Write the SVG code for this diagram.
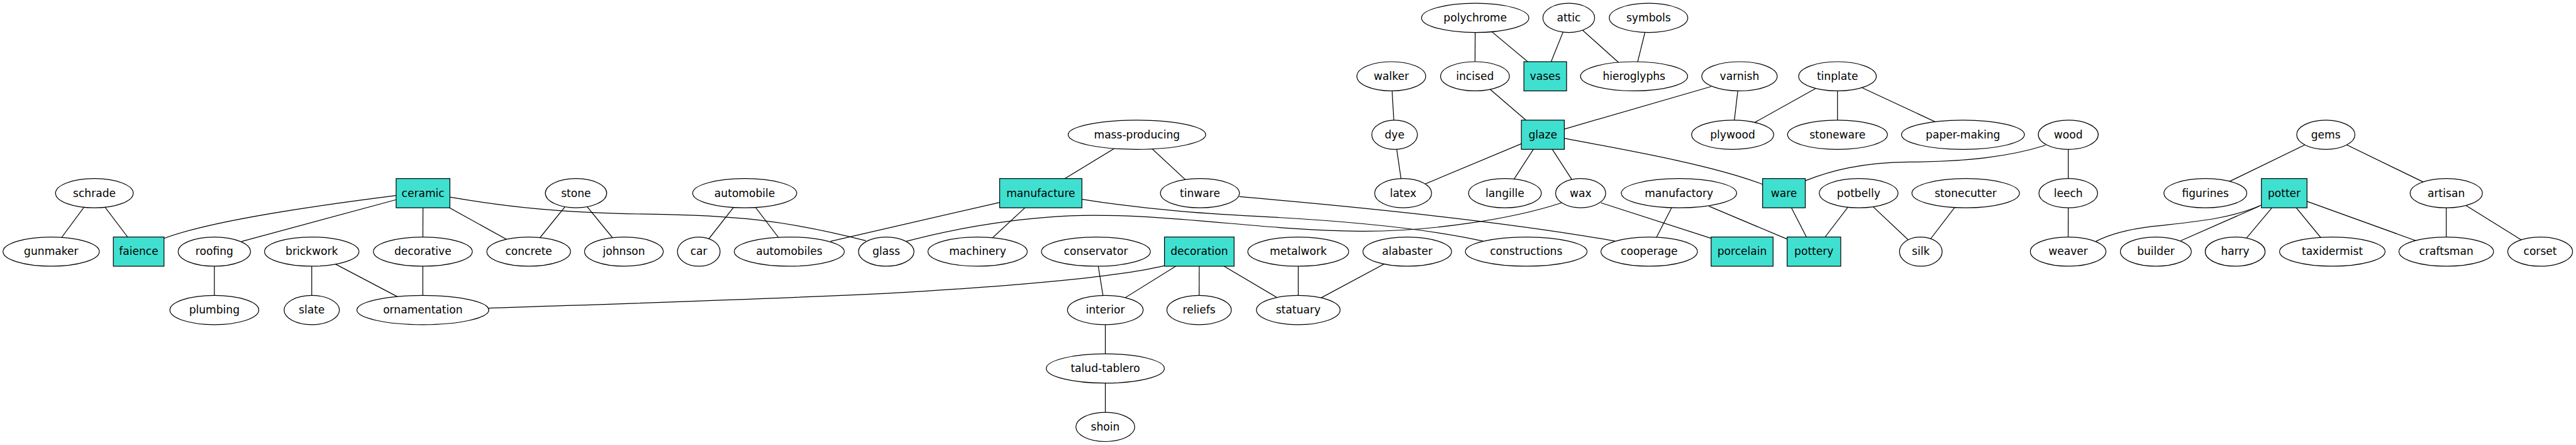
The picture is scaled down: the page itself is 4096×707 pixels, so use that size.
<svg xmlns="http://www.w3.org/2000/svg" width="4096" height="707" viewBox="0 0 4096 707">
<style>
.e{fill:#fff;stroke:#000;stroke-width:1.3}
.b{fill:#40e0d0;stroke:#000;stroke-width:1.3}
#edges line,#edges path{stroke:#000;stroke-width:1.3;fill:none}
text{font-family:"DejaVu Sans","Liberation Sans",sans-serif;font-size:18.2px;text-anchor:middle;fill:#000}
</style>
<rect width="4096" height="707" fill="#fff"/>
<g transform="scale(0.9397)">
<g id="edges">
<line x1="159.7" y1="326.6" x2="86.6" y2="425.4"/>
<line x1="159.7" y1="326.6" x2="234.65" y2="425.4"/>
<line x1="670.5" y1="337.6" x2="408.8" y2="408.3"/>
<line x1="715.8" y1="326.6" x2="715.5" y2="425.4"/>
<line x1="715.8" y1="326.6" x2="894.6" y2="425.4"/>
<line x1="362.7" y1="425.4" x2="362.7" y2="524.2"/>
<line x1="527.5" y1="425.4" x2="527.5" y2="524.2"/>
<line x1="527.5" y1="425.4" x2="715.5" y2="524.2"/>
<line x1="715.5" y1="425.4" x2="715.5" y2="524.2"/>
<line x1="974.7" y1="326.6" x2="894.6" y2="425.4"/>
<line x1="974.7" y1="326.6" x2="1055.7" y2="425.4"/>
<line x1="1260.1" y1="326.6" x2="1182.4" y2="425.4"/>
<line x1="1260.1" y1="326.6" x2="1335.5" y2="425.4"/>
<line x1="1691.5" y1="342.3" x2="1405.4" y2="408"/>
<line x1="1761.1" y1="326.6" x2="1654.2" y2="425.4"/>
<line x1="1923.8" y1="227.8" x2="1761.1" y2="326.6"/>
<line x1="1923.8" y1="227.8" x2="2030.4" y2="326.6"/>
<line x1="1854.4" y1="425.4" x2="1870.3" y2="524.2"/>
<line x1="2029.3" y1="425.4" x2="1870.3" y2="524.2"/>
<line x1="2029.3" y1="425.4" x2="2029" y2="524.2"/>
<line x1="2029.3" y1="425.4" x2="2196.8" y2="524.2"/>
<line x1="1870.3" y1="524.2" x2="1870.3" y2="623"/>
<line x1="1870.3" y1="623" x2="1870.3" y2="721.8"/>
<line x1="2196.8" y1="425.4" x2="2196.8" y2="524.2"/>
<line x1="2381.2" y1="425.4" x2="2196.8" y2="524.2"/>
<line x1="2496.2" y1="30.2" x2="2495.8" y2="129"/>
<line x1="2496.2" y1="30.2" x2="2614.7" y2="129"/>
<line x1="2654.5" y1="30.2" x2="2614.7" y2="129"/>
<line x1="2654.5" y1="30.2" x2="2765" y2="129"/>
<line x1="2789.5" y1="30.2" x2="2765" y2="129"/>
<line x1="2495.8" y1="129" x2="2610.65" y2="227.8"/>
<line x1="2354.2" y1="129" x2="2359.8" y2="227.8"/>
<line x1="2359.8" y1="227.8" x2="2374.2" y2="326.6"/>
<line x1="2610.65" y1="227.8" x2="2374.2" y2="326.6"/>
<line x1="2610.65" y1="227.8" x2="2546.5" y2="326.6"/>
<line x1="2610.65" y1="227.8" x2="2674.6" y2="326.6"/>
<line x1="2895.4" y1="146.3" x2="2647" y2="218.2"/>
<line x1="2943.4" y1="129" x2="2931.8" y2="227.8"/>
<line x1="3109.2" y1="129" x2="2931.8" y2="227.8"/>
<line x1="3109.2" y1="129" x2="3109.2" y2="227.8"/>
<line x1="3109.2" y1="129" x2="3321.5" y2="227.8"/>
<line x1="2709" y1="342.9" x2="2895.4" y2="402.9"/>
<line x1="2841" y1="326.6" x2="2790.6" y2="425.4"/>
<line x1="2891.7" y1="348.7" x2="3024" y2="404.3"/>
<line x1="3018.6" y1="326.6" x2="3069.35" y2="425.4"/>
<line x1="3145" y1="326.6" x2="3069.35" y2="425.4"/>
<line x1="3145" y1="326.6" x2="3250.2" y2="425.4"/>
<line x1="3326.1" y1="326.6" x2="3250.2" y2="425.4"/>
<line x1="3499.7" y1="227.8" x2="3499.7" y2="326.6"/>
<line x1="3499.7" y1="326.6" x2="3499.5" y2="425.4"/>
<line x1="3935.5" y1="227.8" x2="3731.7" y2="326.6"/>
<line x1="3935.5" y1="227.8" x2="4139.3" y2="326.6"/>
<line x1="3823.2" y1="348.5" x2="3690" y2="407"/>
<line x1="3865.1" y1="326.6" x2="3782.1" y2="425.4"/>
<line x1="3865.1" y1="326.6" x2="3946.5" y2="425.4"/>
<line x1="3865.1" y1="326.6" x2="4139.3" y2="425.4"/>
<line x1="4139.3" y1="326.6" x2="4139.3" y2="425.4"/>
<line x1="4139.3" y1="326.6" x2="4298.2" y2="425.4"/>
<path d="M670.5,330.6 C540,347 360,372 277.5,403"/>
<path d="M761,333.2 C860,350 950,360 1095,362 C1240,364 1330,372 1465,407"/>
<path d="M1830.7,336.9 C1950,356 2050,362 2150,367 C2300,375 2420,388 2509.7,407.7"/>
<path d="M2097,332.5 C2300,350 2550,375 2733,407.7"/>
<path d="M1533.6,408 C1620,385 1740,364 1850,364 C2000,364 2150,390 2300,391 C2420,392 2560,370 2642.4,342.9"/>
<path d="M1970.4,449.2 C1900,466 1750,482 1500,496 C1250,508 1000,515 827.1,521"/>
<path d="M2647,234 C2760,255 2900,280 2982.5,311.7"/>
<path d="M3461.2,245.6 C3400,265 3330,273 3230,274 C3150,275 3100,288 3054.7,305.5"/>
<path d="M3826.5,346.7 C3770,372 3700,376 3640,383 C3600,388 3570,396 3546.6,408"/>
</g>
<g id="polychrome"><ellipse class="e" cx="2496.2" cy="30.2" rx="90.8" ry="24.7"/><text x="2496.2" y="36.2">polychrome</text></g>
<g id="attic"><ellipse class="e" cx="2654.5" cy="30.2" rx="43.8" ry="24.7"/><text x="2654.5" y="36.2">attic</text></g>
<g id="symbols"><ellipse class="e" cx="2789.5" cy="30.2" rx="66.4" ry="24.7"/><text x="2789.5" y="36.2">symbols</text></g>
<g id="walker"><ellipse class="e" cx="2354.2" cy="129" rx="58.2" ry="24.7"/><text x="2354.2" y="135">walker</text></g>
<g id="incised"><ellipse class="e" cx="2495.8" cy="129" rx="58.2" ry="24.7"/><text x="2495.8" y="135">incised</text></g>
<g id="hieroglyphs"><ellipse class="e" cx="2765" cy="129" rx="90.6" ry="24.7"/><text x="2765" y="135">hieroglyphs</text></g>
<g id="varnish"><ellipse class="e" cx="2943.4" cy="129" rx="63.8" ry="24.7"/><text x="2943.4" y="135">varnish</text></g>
<g id="tinplate"><ellipse class="e" cx="3109.2" cy="129" rx="65.7" ry="24.7"/><text x="3109.2" y="135">tinplate</text></g>
<g id="mass-producing"><ellipse class="e" cx="1923.8" cy="227.8" rx="116.4" ry="24.7"/><text x="1923.8" y="233.8">mass-producing</text></g>
<g id="dye"><ellipse class="e" cx="2359.8" cy="227.8" rx="38.6" ry="24.7"/><text x="2359.8" y="233.8">dye</text></g>
<g id="plywood"><ellipse class="e" cx="2931.8" cy="227.8" rx="69.4" ry="24.7"/><text x="2931.8" y="233.8">plywood</text></g>
<g id="stoneware"><ellipse class="e" cx="3109.2" cy="227.8" rx="84.5" ry="24.7"/><text x="3109.2" y="233.8">stoneware</text></g>
<g id="paper-making"><ellipse class="e" cx="3321.5" cy="227.8" rx="104" ry="24.7"/><text x="3321.5" y="233.8">paper-making</text></g>
<g id="wood"><ellipse class="e" cx="3499.7" cy="227.8" rx="50.7" ry="24.7"/><text x="3499.7" y="233.8">wood</text></g>
<g id="gems"><ellipse class="e" cx="3935.5" cy="227.8" rx="49.3" ry="24.7"/><text x="3935.5" y="233.8">gems</text></g>
<g id="schrade"><ellipse class="e" cx="159.7" cy="326.6" rx="65.7" ry="24.7"/><text x="159.7" y="332.6">schrade</text></g>
<g id="stone"><ellipse class="e" cx="974.7" cy="326.6" rx="51.9" ry="24.7"/><text x="974.7" y="332.6">stone</text></g>
<g id="automobile"><ellipse class="e" cx="1260.1" cy="326.6" rx="88" ry="24.7"/><text x="1260.1" y="332.6">automobile</text></g>
<g id="tinware"><ellipse class="e" cx="2030.4" cy="326.6" rx="66.8" ry="24.7"/><text x="2030.4" y="332.6">tinware</text></g>
<g id="latex"><ellipse class="e" cx="2374.2" cy="326.6" rx="48.2" ry="24.7"/><text x="2374.2" y="332.6">latex</text></g>
<g id="langille"><ellipse class="e" cx="2546.5" cy="326.6" rx="61.5" ry="24.7"/><text x="2546.5" y="332.6">langille</text></g>
<g id="wax"><ellipse class="e" cx="2674.6" cy="326.6" rx="42.4" ry="24.7"/><text x="2674.6" y="332.6">wax</text></g>
<g id="manufactory"><ellipse class="e" cx="2841" cy="326.6" rx="97.6" ry="24.7"/><text x="2841" y="332.6">manufactory</text></g>
<g id="potbelly"><ellipse class="e" cx="3145" cy="326.6" rx="66.6" ry="24.7"/><text x="3145" y="332.6">potbelly</text></g>
<g id="stonecutter"><ellipse class="e" cx="3326.1" cy="326.6" rx="91" ry="24.7"/><text x="3326.1" y="332.6">stonecutter</text></g>
<g id="leech"><ellipse class="e" cx="3499.7" cy="326.6" rx="49.7" ry="24.7"/><text x="3499.7" y="332.6">leech</text></g>
<g id="figurines"><ellipse class="e" cx="3731.7" cy="326.6" rx="70.1" ry="24.7"/><text x="3731.7" y="332.6">figurines</text></g>
<g id="artisan"><ellipse class="e" cx="4139.3" cy="326.6" rx="61.1" ry="24.7"/><text x="4139.3" y="332.6">artisan</text></g>
<g id="gunmaker"><ellipse class="e" cx="86.6" cy="425.4" rx="81.5" ry="24.7"/><text x="86.6" y="431.4">gunmaker</text></g>
<g id="roofing"><ellipse class="e" cx="362.7" cy="425.4" rx="61.2" ry="24.7"/><text x="362.7" y="431.4">roofing</text></g>
<g id="brickwork"><ellipse class="e" cx="527.5" cy="425.4" rx="79.9" ry="24.7"/><text x="527.5" y="431.4">brickwork</text></g>
<g id="decorative"><ellipse class="e" cx="715.5" cy="425.4" rx="83.7" ry="24.7"/><text x="715.5" y="431.4">decorative</text></g>
<g id="concrete"><ellipse class="e" cx="894.6" cy="425.4" rx="70.8" ry="24.7"/><text x="894.6" y="431.4">concrete</text></g>
<g id="johnson"><ellipse class="e" cx="1055.7" cy="425.4" rx="66.6" ry="24.7"/><text x="1055.7" y="431.4">johnson</text></g>
<g id="car"><ellipse class="e" cx="1182.4" cy="425.4" rx="36.1" ry="24.7"/><text x="1182.4" y="431.4">car</text></g>
<g id="automobiles"><ellipse class="e" cx="1335.5" cy="425.4" rx="93.1" ry="24.7"/><text x="1335.5" y="431.4">automobiles</text></g>
<g id="glass"><ellipse class="e" cx="1499.6" cy="425.4" rx="47" ry="24.7"/><text x="1499.6" y="431.4">glass</text></g>
<g id="machinery"><ellipse class="e" cx="1654.2" cy="425.4" rx="84" ry="24.7"/><text x="1654.2" y="431.4">machinery</text></g>
<g id="conservator"><ellipse class="e" cx="1854.4" cy="425.4" rx="92.2" ry="24.7"/><text x="1854.4" y="431.4">conservator</text></g>
<g id="metalwork"><ellipse class="e" cx="2196.8" cy="425.4" rx="85.4" ry="24.7"/><text x="2196.8" y="431.4">metalwork</text></g>
<g id="alabaster"><ellipse class="e" cx="2381.2" cy="425.4" rx="75" ry="24.7"/><text x="2381.2" y="431.4">alabaster</text></g>
<g id="constructions"><ellipse class="e" cx="2582.5" cy="425.4" rx="103" ry="24.7"/><text x="2582.5" y="431.4">constructions</text></g>
<g id="cooperage"><ellipse class="e" cx="2790.6" cy="425.4" rx="81.6" ry="24.7"/><text x="2790.6" y="431.4">cooperage</text></g>
<g id="silk"><ellipse class="e" cx="3250.2" cy="425.4" rx="36.1" ry="24.7"/><text x="3250.2" y="431.4">silk</text></g>
<g id="weaver"><ellipse class="e" cx="3499.5" cy="425.4" rx="64" ry="24.7"/><text x="3499.5" y="431.4">weaver</text></g>
<g id="builder"><ellipse class="e" cx="3647.9" cy="425.4" rx="60" ry="24.7"/><text x="3647.9" y="431.4">builder</text></g>
<g id="harry"><ellipse class="e" cx="3782.1" cy="425.4" rx="50.7" ry="24.7"/><text x="3782.1" y="431.4">harry</text></g>
<g id="taxidermist"><ellipse class="e" cx="3946.5" cy="425.4" rx="89.3" ry="24.7"/><text x="3946.5" y="431.4">taxidermist</text></g>
<g id="craftsman"><ellipse class="e" cx="4139.3" cy="425.4" rx="80" ry="24.7"/><text x="4139.3" y="431.4">craftsman</text></g>
<g id="corset"><ellipse class="e" cx="4298.2" cy="425.4" rx="54.8" ry="24.7"/><text x="4298.2" y="431.4">corset</text></g>
<g id="plumbing"><ellipse class="e" cx="362.7" cy="524.2" rx="75.2" ry="24.7"/><text x="362.7" y="530.2">plumbing</text></g>
<g id="slate"><ellipse class="e" cx="527.5" cy="524.2" rx="46.8" ry="24.7"/><text x="527.5" y="530.2">slate</text></g>
<g id="ornamentation"><ellipse class="e" cx="715.5" cy="524.2" rx="111.6" ry="24.7"/><text x="715.5" y="530.2">ornamentation</text></g>
<g id="interior"><ellipse class="e" cx="1870.3" cy="524.2" rx="64" ry="24.7"/><text x="1870.3" y="530.2">interior</text></g>
<g id="reliefs"><ellipse class="e" cx="2029" cy="524.2" rx="54.5" ry="24.7"/><text x="2029" y="530.2">reliefs</text></g>
<g id="statuary"><ellipse class="e" cx="2196.8" cy="524.2" rx="70.8" ry="24.7"/><text x="2196.8" y="530.2">statuary</text></g>
<g id="talud-tablero"><ellipse class="e" cx="1870.3" cy="623" rx="99.9" ry="24.7"/><text x="1870.3" y="629">talud-tablero</text></g>
<g id="shoin"><ellipse class="e" cx="1870.3" cy="721.8" rx="49.8" ry="24.7"/><text x="1870.3" y="727.8">shoin</text></g>
<g id="faience"><rect class="b" x="191.8" y="400.7" width="85.7" height="49.4"/><text x="234.65" y="431.4">faience</text></g>
<g id="ceramic"><rect class="b" x="670.3" y="301.9" width="91" height="49.4"/><text x="715.8" y="332.6">ceramic</text></g>
<g id="manufacture"><rect class="b" x="1691.5" y="301.9" width="139.2" height="49.4"/><text x="1761.1" y="332.6">manufacture</text></g>
<g id="decoration"><rect class="b" x="1970.4" y="400.7" width="117.8" height="49.4"/><text x="2029.3" y="431.4">decoration</text></g>
<g id="vases"><rect class="b" x="2578.6" y="104.3" width="72.2" height="49.4"/><text x="2614.7" y="135">vases</text></g>
<g id="glaze"><rect class="b" x="2574.3" y="203.1" width="72.7" height="49.4"/><text x="2610.65" y="233.8">glaze</text></g>
<g id="ware"><rect class="b" x="2982.5" y="301.9" width="72.2" height="49.4"/><text x="3018.6" y="332.6">ware</text></g>
<g id="porcelain"><rect class="b" x="2895.4" y="400.7" width="104.8" height="49.4"/><text x="2947.8" y="431.4">porcelain</text></g>
<g id="pottery"><rect class="b" x="3024" y="400.7" width="90.7" height="49.4"/><text x="3069.35" y="431.4">pottery</text></g>
<g id="potter"><rect class="b" x="3826.5" y="301.9" width="77.2" height="49.4"/><text x="3865.1" y="332.6">potter</text></g>
</g>
</svg>
